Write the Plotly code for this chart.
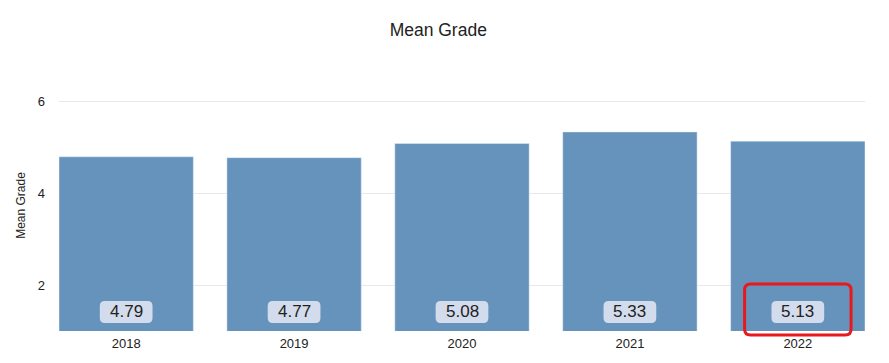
import plotly.graph_objects as go

years = ["2018", "2019", "2020", "2021", "2022"]
mean_grade = [4.79, 4.77, 5.08, 5.33, 5.13]
highlight_year = "2022"

BAR_COLOR = "#6593bc"
BOX_COLOR = "#d3dcec"

fig = go.Figure(go.Bar(x=years, y=mean_grade, marker_color=BAR_COLOR, width=0.8,
                       hoverinfo="skip"))

def rounded_path(x0, x1, y0, y1, rx, ry):
    return (f"M {x0+rx},{y0} L {x1-rx},{y0} Q {x1},{y0} {x1},{y0+ry} "
            f"L {x1},{y1-ry} Q {x1},{y1} {x1-rx},{y1} L {x0+rx},{y1} "
            f"Q {x0},{y1} {x0},{y1-ry} L {x0},{y0+ry} Q {x0},{y0} {x0+rx},{y0} Z")

shapes = []
annotations = []
for i, (yr, v) in enumerate(zip(years, mean_grade)):
    shapes.append(dict(type="path", xref="x", yref="paper",
                       path=rounded_path(i - 0.157, i + 0.157, 0.032, 0.12, 0.03, 0.02),
                       fillcolor=BOX_COLOR, line=dict(width=0), layer="above"))
    annotations.append(dict(x=i, y=0.0757, xref="x", yref="paper", text=f"{v:.2f}",
                            showarrow=False, yanchor="middle",
                            font=dict(size=17, color="#222222")))

hi = years.index(highlight_year)
shapes.append(dict(type="path", xref="x", yref="paper",
                   path=rounded_path(hi - 0.317, hi + 0.317, -0.016, 0.187, 0.035, 0.024),
                   fillcolor="rgba(0,0,0,0)", line=dict(color="#e8191c", width=3),
                   layer="above"))

fig.update_layout(
    width=889, height=363,
    margin=dict(l=47, r=32, t=72, b=40),
    paper_bgcolor="white", plot_bgcolor="white",
    font=dict(family="Liberation Sans, Arial, sans-serif", color="#222222", size=12),
    title=dict(text="Mean Grade", x=0.484, xanchor="center", y=0.939, yanchor="middle",
               font=dict(size=17.5, color="#222222")),
    xaxis=dict(type="category", range=[-0.4, 4.4], showgrid=False, showline=False,
               ticks="", tickfont=dict(size=13), ticklabelstandoff=3),
    yaxis=dict(range=[1, 6.46], tickvals=[2, 4, 6], showgrid=True, gridcolor="#e8e8e8",
               zeroline=False, showline=False, ticks="", tickfont=dict(size=13),
               ticklabelstandoff=13,
               title=dict(text="Mean Grade", font=dict(size=12), standoff=9)),
    shapes=shapes, annotations=annotations, bargap=0.2, showlegend=False,
)

fig.write_html("out.html")
